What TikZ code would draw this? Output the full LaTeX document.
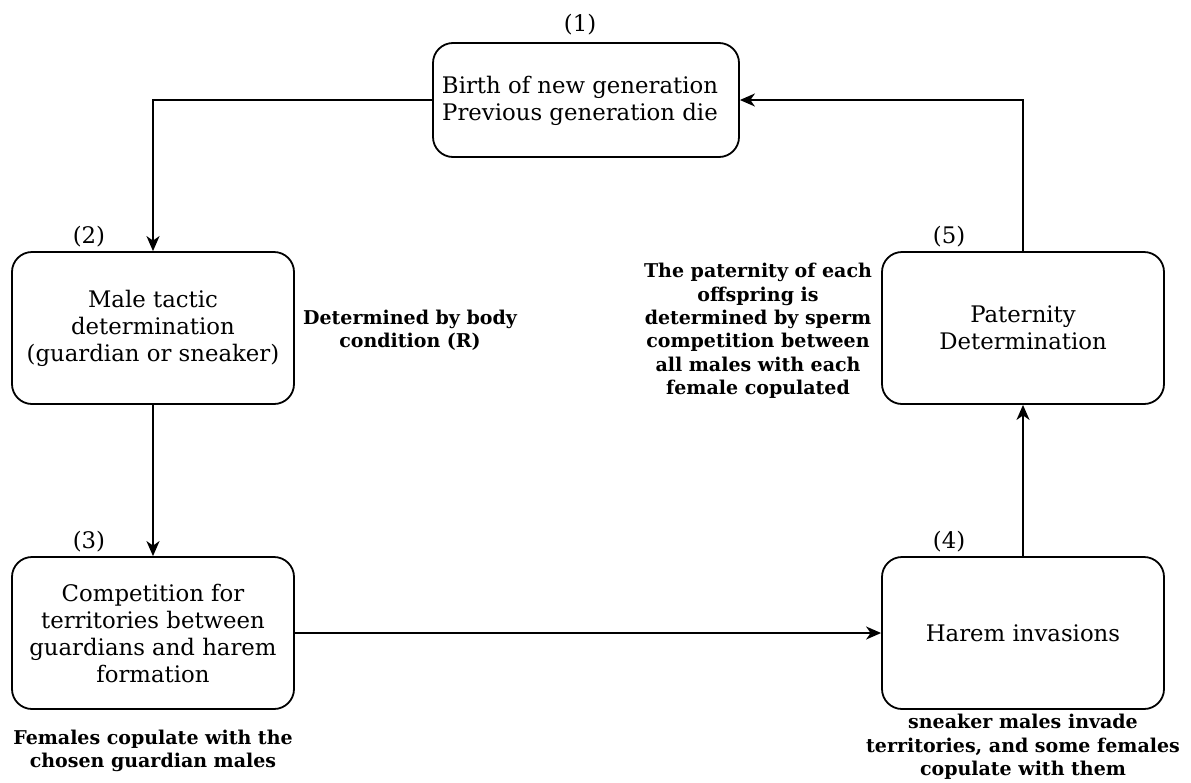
\documentclass[tikz,border=0pt]{standalone}
\usepackage{fontspec}
\setmainfont{DejaVu Serif}
\usetikzlibrary{arrows.meta}
\begin{document}
\begin{tikzpicture}[x=1pt,y=-1pt,
  stepbox/.style={draw, line width=1.8pt, rounded corners=20pt, minimum width=282pt, minimum height=152pt, align=center, font=\fontsize{22.8}{27}\selectfont, inner sep=0pt},
  boxtext/.style={align=center, font=\fontsize{22.8}{27}\selectfont, inner sep=0pt},
  numlbl/.style={font=\fontsize{22.8}{24}\selectfont, inner sep=0pt},
  note/.style={align=center, font=\fontsize{19}{23.3}\selectfont\bfseries, inner sep=0pt},
  conn/.style={line width=1.8pt, -{Stealth[length=15pt,width=13pt,inset=4.5pt]}}]
\useasboundingbox (0,0) rectangle (1191,782);
\node[stepbox, minimum width=306pt, minimum height=114pt] (b1) at (586,100) {};
\node[boxtext] (b1t) at (580,101) {Birth of new generation\\Previous generation die};
\node[stepbox] (b2) at (153,328) {Male tactic\\determination\\(guardian or sneaker)};
\node[stepbox] (b3) at (153,633) {Competition for\\territories between\\guardians and harem\\formation};
\node[stepbox] (b4) at (1023,633) {Harem invasions};
\node[stepbox] (b5) at (1023,328) {Paternity\\Determination};
\node[numlbl] (n1) at (580,25) {(1)};
\node[numlbl] (n2) at (89,237) {(2)};
\node[numlbl] (n3) at (89,542) {(3)};
\node[numlbl] (n4) at (949,542) {(4)};
\node[numlbl] (n5) at (949,237) {(5)};
\node[note] (t2) at (410,330) {Determined by body\\condition (R)};
\node[note] (t5) at (758,331) {The paternity of each\\offspring is\\determined by sperm\\competition between\\all males with each\\female copulated};
\node[note] (t3) at (153,751) {Females copulate with the\\chosen guardian males};
\node[note] (t4) at (1023,747) {sneaker males invade\\territories, and some females\\copulate with them};
\draw[conn] (b1.west) -| (b2.north);
\draw[conn] (b2.south) -- (b3.north);
\draw[conn] (b3.east) -- (b4.west);
\draw[conn] (b4.north) -- (b5.south);
\draw[conn] (b5.north) |- (b1.east);
\end{tikzpicture}
\end{document}
